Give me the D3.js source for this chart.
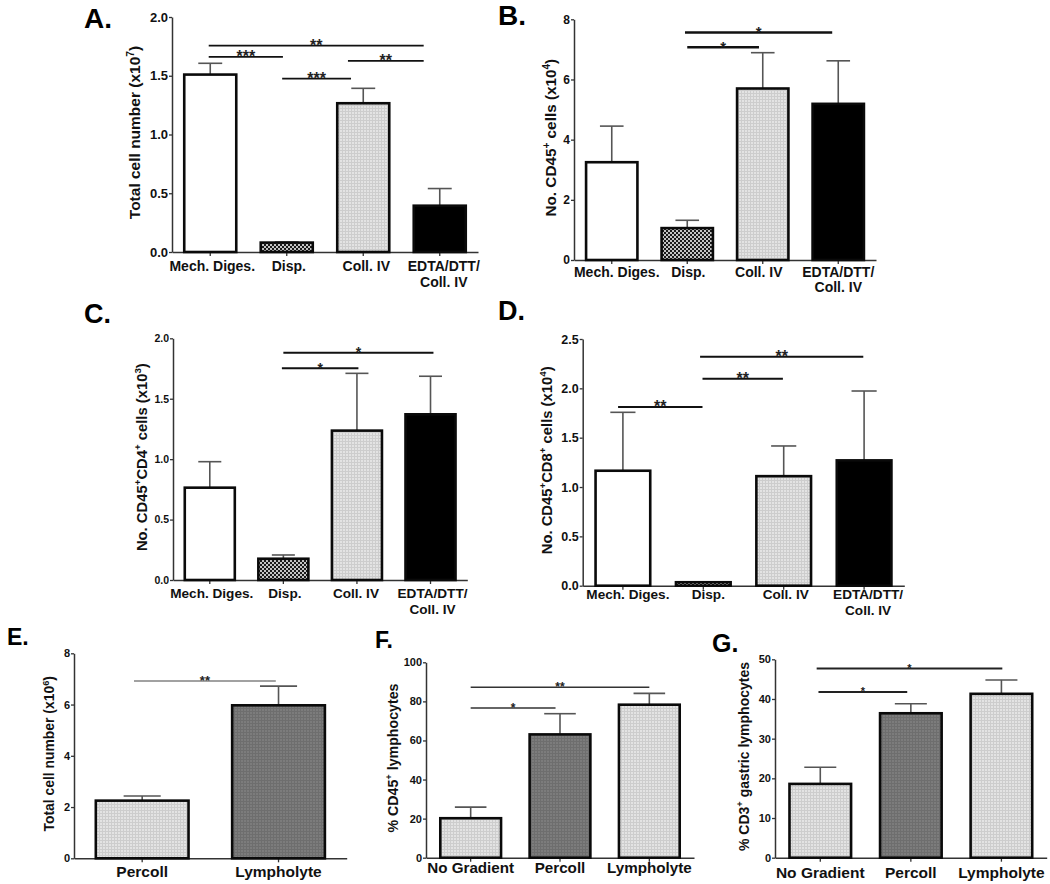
<!DOCTYPE html>
<html><head><meta charset="utf-8">
<script src="https://cdn.jsdelivr.net/npm/d3@7"></script>
<style>
body{margin:0;background:#fff;}
svg{display:block;font-family:"Liberation Sans",Arial,Helvetica,sans-serif;font-weight:bold;}
</style></head><body>
<svg id="fig" width="1050" height="884"></svg>
<script>
// ---------------- data ----------------
const catsDigest = ["Mech. Diges.", "Disp.", "Coll. IV", "EDTA/DTT/\nColl. IV"];
const catsGradE = ["Percoll", "Lympholyte"];
const catsGrad = ["No Gradient", "Percoll", "Lympholyte"];

// A. Total cell number (x10^7)
const meanA = [1.51, 0.08, 1.266, 0.394];
const semA  = [0.096, 0.005, 0.127, 0.146];
const ticksA = [0, 0.5, 1.0, 1.5, 2.0];
// significance: [from index, to index, level, stars]
const sigA = [[-0.02, 2.79, 1.756, "**"], [-0.02, 0.95, 1.66, "***"], [0.94, 1.84, 1.475, "***"], [1.80, 2.79, 1.626, "**"]];

// B. No. CD45+ cells (x10^4)
const meanB = [3.25, 1.06, 5.70, 5.19];
const semB  = [1.20, 0.26, 1.19, 1.43];
const ticksB = [0, 2, 4, 6, 8];
const sigB = [[0.97, 2.92, 7.56, "*"], [1.0, 1.95, 7.07, "*"]];

// C. No. CD45+CD4+ cells (x10^3)
const meanC = [0.764, 0.176, 1.236, 1.371];
const semC  = [0.215, 0.031, 0.474, 0.315];
const ticksC = [0, 0.5, 1.0, 1.5, 2.0];
const sigC = [[1.0, 3.04, 1.881, "*"], [0.98, 2.02, 1.752, "*"]];

// D. No. CD45+CD8+ cells (x10^4)
const meanD = [1.165, 0.035, 1.11, 1.27];
const semD  = [0.592, 0, 0.306, 0.703];
const ticksD = [0, 0.5, 1.0, 1.5, 2.0, 2.5];
const sigD = [[0.96, 2.99, 2.32, "**"], [0.99, 1.99, 2.097, "**"], [-0.06, 0.99, 1.81, "**"]];

// E. Total cell number (x10^6)
const meanE = [2.25, 5.97];
const semE  = [0.18, 0.75];
const ticksE = [0, 2, 4, 6, 8];
const sigE = [[-0.06, 0.98, 6.92, "**"]];

// F. % CD45+ lymphocytes
const meanF = [20.2, 63.1, 78.3];
const semF  = [5.7, 10.6, 5.8];
const ticksF = [0, 20, 40, 60, 80, 100];
const sigF = [[0.0, 2.0, 87.2, "**"], [0.0, 0.95, 76.6, "*"]];

// G. % CD3+ gastric lymphocytes
const meanG = [18.6, 36.4, 41.3];
const semG  = [4.2, 2.4, 3.5];
const ticksG = [0, 10, 20, 30, 40, 50];
const sigG = [[-0.04, 2.01, 47.7, "*"], [-0.02, 0.96, 41.76, "*"]];

// ---------------- layout / style ----------------
const panels = [
  {letter:"A.", lx:84, ly:28, lfs:28, cats:catsDigest, mean:meanA, sem:semA, ticks:ticksA, fmt:".1f", sig:sigA,
   title:"Total cell number (x10^7)", tfs:15.5, tx:140,
   x0:172, x1:478, y0:252, y1:17, max:2,
   fills:["white","checker","grid","black"], tickFs:13, xFs:14, xDy:19, lineH:16, xShift:[2,2,3,4],
   sigW:1.8, sigC:"#111", starFs:16, capFrac:0.46},
  {letter:"B.", lx:498, ly:25, lfs:28, cats:catsDigest, mean:meanB, sem:semB, ticks:ticksB, fmt:"d", sig:sigB,
   title:"No. CD45^+ cells (x10^4)", tfs:15.3, tx:556,
   x0:574, x1:876, y0:260, y1:19.3, max:8,
   fills:["white","checker","grid","black"], tickFs:12, xFs:14, xDy:17, lineH:15, xShift:[5,1,-4,0],
   sigW:2.5, sigC:"#111", starFs:15, capFrac:0.46},
  {letter:"C.", lx:84, ly:323, lfs:27, cats:catsDigest, mean:meanC, sem:semC, ticks:ticksC, fmt:".1f", sig:sigC,
   title:"No. CD45^+CD4^+ cells (x10^3)", tfs:14.8, tx:147,
   x0:173, x1:467.3, y0:580, y1:338.3, max:2,
   fills:["white","checker","grid","black"], tickFs:10.5, xFs:13.6, xDy:18, lineH:16, xShift:[2,1.5,-1,2],
   sigW:2, sigC:"#111", starFs:14, capFrac:0.46},
  {letter:"D.", lx:498, ly:320, lfs:27, cats:catsDigest, mean:meanD, sem:semD, ticks:ticksD, fmt:".1f", sig:sigD,
   title:"No. CD45^+CD8^+ cells (x10^4)", tfs:14.8, tx:552,
   x0:582.7, x1:904.3, y0:585.7, y1:339, max:2.5,
   fills:["white","checker","grid","black"], tickFs:12.5, xFs:13.6, xDy:13, lineH:16, xShift:[5,5,2,4],
   sigW:2, sigC:"#111", starFs:16, capFrac:0.46},
  {letter:"E.", lx:7, ly:645, lfs:23, cats:catsGradE, mean:meanE, sem:semE, ticks:ticksE, fmt:"d", sig:sigE,
   title:"Total cell number (x10^6)", tfs:13.9, tx:54,
   x0:74, x1:346.7, y0:858.3, y1:653.3, max:8,
   fills:["grid","dark"], tickFs:11, xFs:15.5, xDy:18.5, lineH:16, xShift:[0,0],
   sigW:1.2, sigC:"#444", starFs:13, capFrac:0.4},
  {letter:"F.", lx:375, ly:648, lfs:23, cats:catsGrad, mean:meanF, sem:semF, ticks:ticksF, fmt:"d", sig:sigF,
   title:"% CD45^+ lymphocytes", tfs:14.2, tx:398,
   x0:426, x1:694, y0:857.7, y1:662.3, max:100,
   fills:["grid","dark","grid"], tickFs:11, xFs:15.2, xDy:15.5, lineH:16, xShift:[0,0,0],
   sigW:1.5, sigC:"#333", starFs:12, capFrac:0.52},
  {letter:"G.", lx:712, ly:652, lfs:25, cats:catsGrad, mean:meanG, sem:semG, ticks:ticksG, fmt:"d", sig:sigG,
   title:"% CD3^+ gastric lymphocytes", tfs:14, tx:749,
   x0:775, x1:1046.7, y0:857.7, y1:659.3, max:50,
   fills:["grid","dark","grid"], tickFs:11, xFs:15.5, xDy:20.5, lineH:16, xShift:[0,0,0],
   sigW:2, sigC:"#222", starFs:11, capFrac:0.52}
];

const svg = d3.select("#fig");
const defs = svg.append("defs");

// pattern: light fine grid
const pg = defs.append("pattern").attr("id","grid").attr("patternUnits","userSpaceOnUse").attr("width",3).attr("height",3);
pg.append("rect").attr("width",3).attr("height",3).attr("fill","#e3e3e3");
pg.append("path").attr("d","M0,0.5H3M0.5,0V3").attr("stroke","#cdcdcd").attr("stroke-width",1);
// pattern: dark checker
const pc = defs.append("pattern").attr("id","checker").attr("patternUnits","userSpaceOnUse").attr("width",4).attr("height",4);
pc.append("rect").attr("width",4).attr("height",4).attr("fill","#c4c4c4");
pc.append("rect").attr("width",2).attr("height",2).attr("fill","#1a1a1a");
pc.append("rect").attr("x",2).attr("y",2).attr("width",2).attr("height",2).attr("fill","#1a1a1a");
// pattern: dark grey fine grid
const pd = defs.append("pattern").attr("id","dark").attr("patternUnits","userSpaceOnUse").attr("width",3).attr("height",3);
pd.append("rect").attr("width",3).attr("height",3).attr("fill","#7c7c7c");
pd.append("path").attr("d","M0,0.5H3M0.5,0V3").attr("stroke","#6e6e6e").attr("stroke-width",1);

const fillOf = k => k === "white" ? "#fff" : k === "black" ? "#000" : `url(#${k})`;

function addRichText(sel, str) {
  // "^x" marks a superscript character
  const parts = str.split(/\^(.)/);
  let raised = false;
  parts.forEach((t, i) => {
    if (t === "") return;
    if (i % 2 === 1) {
      sel.append("tspan").attr("dy", "-0.6em").attr("font-size", "0.66em").text(t);
      raised = true;
    } else {
      const ts = sel.append("tspan").text(t);
      if (raised) { ts.attr("dy", (0.6 * 0.66).toFixed(3) + "em"); raised = false; }
    }
  });
}

panels.forEach(p => {
  const g = svg.append("g");
  const x = d3.scaleBand().domain(p.cats).range([p.x0, p.x1]).paddingInner(0.32).paddingOuter(0.16);
  const y = d3.scaleLinear().domain([0, p.max]).range([p.y0, p.y1]);
  const bw = x.bandwidth(), step = x.step();
  const cx = i => x(p.cats[0]) + bw / 2 + i * step;

  // panel letter
  g.append("text").attr("x", p.lx).attr("y", p.ly).attr("font-size", p.lfs).attr("fill", "#000").text(p.letter);

  // y axis
  const ya = g.append("g").attr("transform", `translate(${p.x0},0)`)
    .call(d3.axisLeft(y).tickValues(p.ticks).tickFormat(d3.format(p.fmt)).tickSize(3).tickPadding(1).tickSizeOuter(0));
  ya.attr("font-family", null);
  ya.select(".domain").attr("stroke", "#333").attr("stroke-width", 1.5);
  ya.selectAll(".tick line").attr("stroke", "#333").attr("stroke-width", 1.3);
  ya.selectAll(".tick text").attr("font-size", p.tickFs).attr("fill", "#111");

  // x axis
  const xa = g.append("g").attr("transform", `translate(0,${p.y0})`)
    .call(d3.axisBottom(x).tickSize(4).tickSizeOuter(0));
  xa.attr("font-family", null);
  xa.selectAll(".tick text").remove();
  xa.select(".domain").attr("stroke", "#333").attr("stroke-width", 1.5);
  xa.selectAll(".tick line").attr("stroke", "#333").attr("stroke-width", 1.3);

  // x labels (multi-line)
  p.cats.forEach((c, i) => {
    const t = g.append("text").attr("text-anchor", "middle").attr("font-size", p.xFs).attr("fill", "#111");
    c.split("\n").forEach((ln, k) => {
      t.append("tspan").attr("x", x(c) + bw / 2 + p.xShift[i]).attr("y", p.y0 + p.xDy + k * p.lineH).text(ln);
    });
  });

  // y title
  const ymid = (p.y0 + p.y1) / 2 - 2;
  const tt = g.append("text").attr("text-anchor", "middle").attr("font-size", p.tfs).attr("fill", "#111")
    .attr("transform", `translate(${p.tx},${ymid}) rotate(-90)`);
  addRichText(tt, p.title);

  // error bars (drawn under bars)
  p.cats.forEach((c, i) => {
    if (!(p.sem[i] > 0)) return;
    const xc = x(c) + bw / 2, yb = y(p.mean[i]), yt = y(p.mean[i] + p.sem[i]);
    const cw = bw * p.capFrac;
    g.append("line").attr("x1", xc).attr("x2", xc).attr("y1", yb).attr("y2", yt)
      .attr("stroke", "#555").attr("stroke-width", 1.6);
    g.append("line").attr("x1", xc - cw / 2).attr("x2", xc + cw / 2).attr("y1", yt).attr("y2", yt)
      .attr("stroke", "#555").attr("stroke-width", 1.6);
  });

  // bars
  g.selectAll("rect.bar").data(p.cats).join("rect").attr("class", "bar")
    .attr("x", c => x(c))
    .attr("y", (c, i) => y(p.mean[i]))
    .attr("width", bw)
    .attr("height", (c, i) => y(0) - y(p.mean[i]))
    .attr("fill", (c, i) => fillOf(p.fills[i]))
    .attr("stroke", "#0a0a0a").attr("stroke-width", 2.6);

  // significance lines
  p.sig.forEach(s => {
    const xa1 = cx(s[0]), xa2 = cx(s[1]), yy = y(s[2]);
    g.append("line").attr("x1", xa1).attr("x2", xa2).attr("y1", yy).attr("y2", yy)
      .attr("stroke", p.sigC).attr("stroke-width", p.sigW);
    g.append("text").attr("x", (xa1 + xa2) / 2).attr("y", yy + 0.42 * p.starFs - 1.5)
      .attr("text-anchor", "middle").attr("font-size", p.starFs).attr("fill", "#222").text(s[3]);
  });
});
</script>
</body></html>
